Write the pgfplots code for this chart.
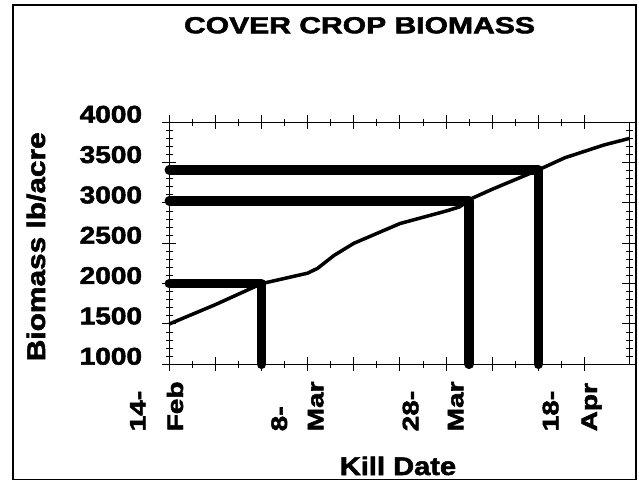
\documentclass[border=0pt]{standalone}
\usepackage{fontspec}
\setmainfont{Liberation Sans}[BoldFeatures={FakeBold=2}]
\usepackage{graphicx}
\usepackage{pgfplots}
\pgfplotsset{compat=1.18}
\newcommand\ysx[1]{\scalebox{1.16}[1]{#1}}
\newcommand\xlab[1]{\scalebox{1.25}[1]{#1}}
\pgfplotstableread{
day  bio
0    1500
7    1740
14   2000
21   2130
22.5 2190
25   2350
28   2500
35   2745
42   2900
44   2950
46   3060
49   3170
56   3410
60   3560
66   3720
69.8 3800
}\biomass
\begin{document}
\begin{tikzpicture}
\path[use as bounding box] (0,0) rectangle (639bp,-482bp);
\draw[line width=1.5bp] (13bp,-5bp) rectangle (636bp,-479.3bp);
\begin{axis}[
  at={(169.3bp,-364.3bp)}, anchor=south west,
  scale only axis, width=460bp, height=242bp,
  xmin=0, xmax=69.8, ymin=1000, ymax=4000,
  xtick={0,7,...,63}, xticklabels={},
  minor x tick num=1,
  ytick={1000,1500,...,4000},
  yticklabels={\ysx{1000},\ysx{1500},\ysx{2000},\ysx{2500},\ysx{3000},\ysx{3500},\ysx{4000}},
  minor y tick num=4,
  tick align=center,
  major tick length=14bp, minor tick length=7bp,
  every tick/.style={black, line width=1bp},
  axis line style={line width=1.5bp},
  yticklabel style={font=\fontsize{24.3}{28}\selectfont\bfseries, inner sep=0pt, anchor=east, xshift=-20bp, yshift=8bp},
  clip=false,
]
\addplot[line width=3.5bp, black, line join=round] table[x=day, y=bio] {\biomass};
\addplot[line width=9.5bp, black, line cap=round, line join=round] coordinates {(0,2000) (14,2000) (14,1000)};
\addplot[line width=9.5bp, black, line cap=round, line join=round] coordinates {(0,3025) (45.5,3025) (45.5,1000)};
\addplot[line width=9.5bp, black, line cap=round, line join=round] coordinates {(0,3410) (56,3410) (56,1000)};
\end{axis}
\node[anchor=base, font=\fontsize{23.4}{28}\selectfont\bfseries] at (359.5bp,-33.3bp) {\scalebox{1.29}[1]{COVER CROP BIOMASS}};
\node[rotate=90, anchor=base, font=\fontsize{25.6}{30}\selectfont\bfseries] at (45bp,-246.7bp) {\scalebox{1.17}[1]{Biomass lb/acre}};
\node[anchor=base, font=\fontsize{25.6}{30}\selectfont\bfseries] at (398bp,-475bp) {\scalebox{1.14}[1]{Kill Date}};
\begin{scope}[every node/.style={rotate=90, anchor=base west, inner sep=0pt, font=\fontsize{22.5}{26}\selectfont\bfseries}]
\node at (145.5bp,-431.5bp) {\xlab{14-}};
\node at (183bp,-431.5bp) {\xlab{Feb}};
\node at (287bp,-431.5bp) {\xlab{8-}};
\node at (323.3bp,-431.5bp) {\xlab{Mar}};
\node at (418.3bp,-431.5bp) {\xlab{28-}};
\node at (463.3bp,-431.5bp) {\xlab{Mar}};
\node at (558.3bp,-431.5bp) {\xlab{18-}};
\node at (597bp,-431.5bp) {\xlab{Apr}};
\end{scope}
\end{tikzpicture}
\end{document}
